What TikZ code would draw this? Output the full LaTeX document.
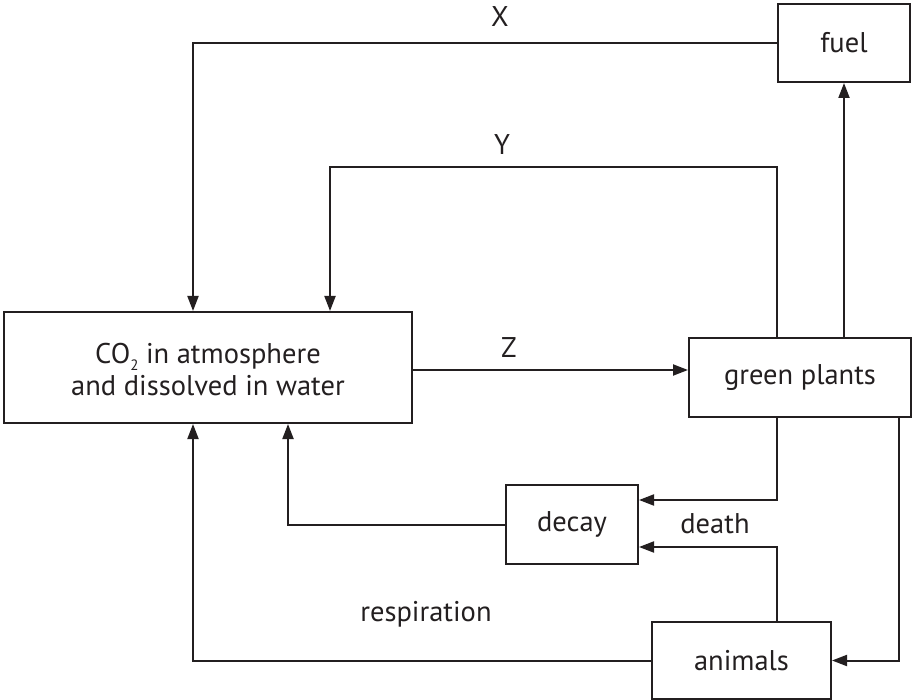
\documentclass[tikz,border=0pt]{standalone}
\usepackage{fontspec}
\setmainfont{PT Sans}
\usetikzlibrary{arrows.meta}
\definecolor{ink}{HTML}{231F20}
\tikzset{
  box/.style={draw=ink, line width=2pt, rectangle, inner sep=0pt, text=ink, font=\fontsize{28.5}{30}\selectfont},
  txt/.style={inner sep=0pt, text=ink, align=center, font=\fontsize{28.5}{32}\selectfont},
  lbl/.style={anchor=base, inner sep=0pt, font=\fontsize{28.5}{30}\selectfont, text=ink},
  arr/.style={draw=ink, line width=2pt, -{Triangle[length=15pt,width=11pt]}},
}
\begin{document}
\begin{tikzpicture}[x=1pt,y=-1pt]
\useasboundingbox (0,0) rectangle (912,700);
% boxes
\node[box, minimum width=132pt, minimum height=78pt] (fuel) at (844,43) {fuel};
\node[box, minimum width=408pt, minimum height=111pt] (co2) at (208,367.5) {};
\node[txt] (co2text) at ([yshift=-2pt]co2.center)
  {CO\smash{\raisebox{-7pt}{\fontsize{15}{15}\selectfont 2}} in atmosphere\\and dissolved in water};
\node[box, minimum width=222pt, minimum height=79pt] (gp) at (800,377.5) {green plants};
\node[box, minimum width=132pt, minimum height=79pt] (decay) at (572,524.5) {decay};
\node[box, minimum width=179pt, minimum height=77pt] (animals) at (741.5,660.5) {animals};
\coordinate (ycorner) at (330,167);
% connectors
\draw[arr] (fuel.west) -| ([xshift=190pt]co2.north west);
\draw[arr] ([xshift=89pt]gp.north west) |- (ycorner) -- (ycorner |- co2.north);
\draw[arr] (fuel.south |- gp.north) -- (fuel.south);
\draw[arr] ([yshift=-2.5pt]co2.east) -- ([yshift=-2.5pt]co2.east -| gp.west);
\draw[arr] ([xshift=89pt]gp.south west) |- ([yshift=24.5pt]decay.east);
\draw[arr] ([xshift=-13pt]gp.south east) |- (animals.east);
\draw[arr] ([xshift=126pt]animals.north west) |- ([yshift=-22.5pt]decay.east);
\draw[arr] (decay.west) -| ([xshift=285pt]co2.south west);
\draw[arr] (animals.west) -| ([xshift=190pt]co2.south west);
% labels
\node[lbl] (lx) at (500,27) {X};
\node[lbl] (ly) at (502,155) {Y};
\node[lbl] (lz) at (509,357) {Z};
\node[lbl] (ldeath) at (715,533) {death};
\node[lbl] (lresp) at (426,621) {respiration};
\end{tikzpicture}
\end{document}
